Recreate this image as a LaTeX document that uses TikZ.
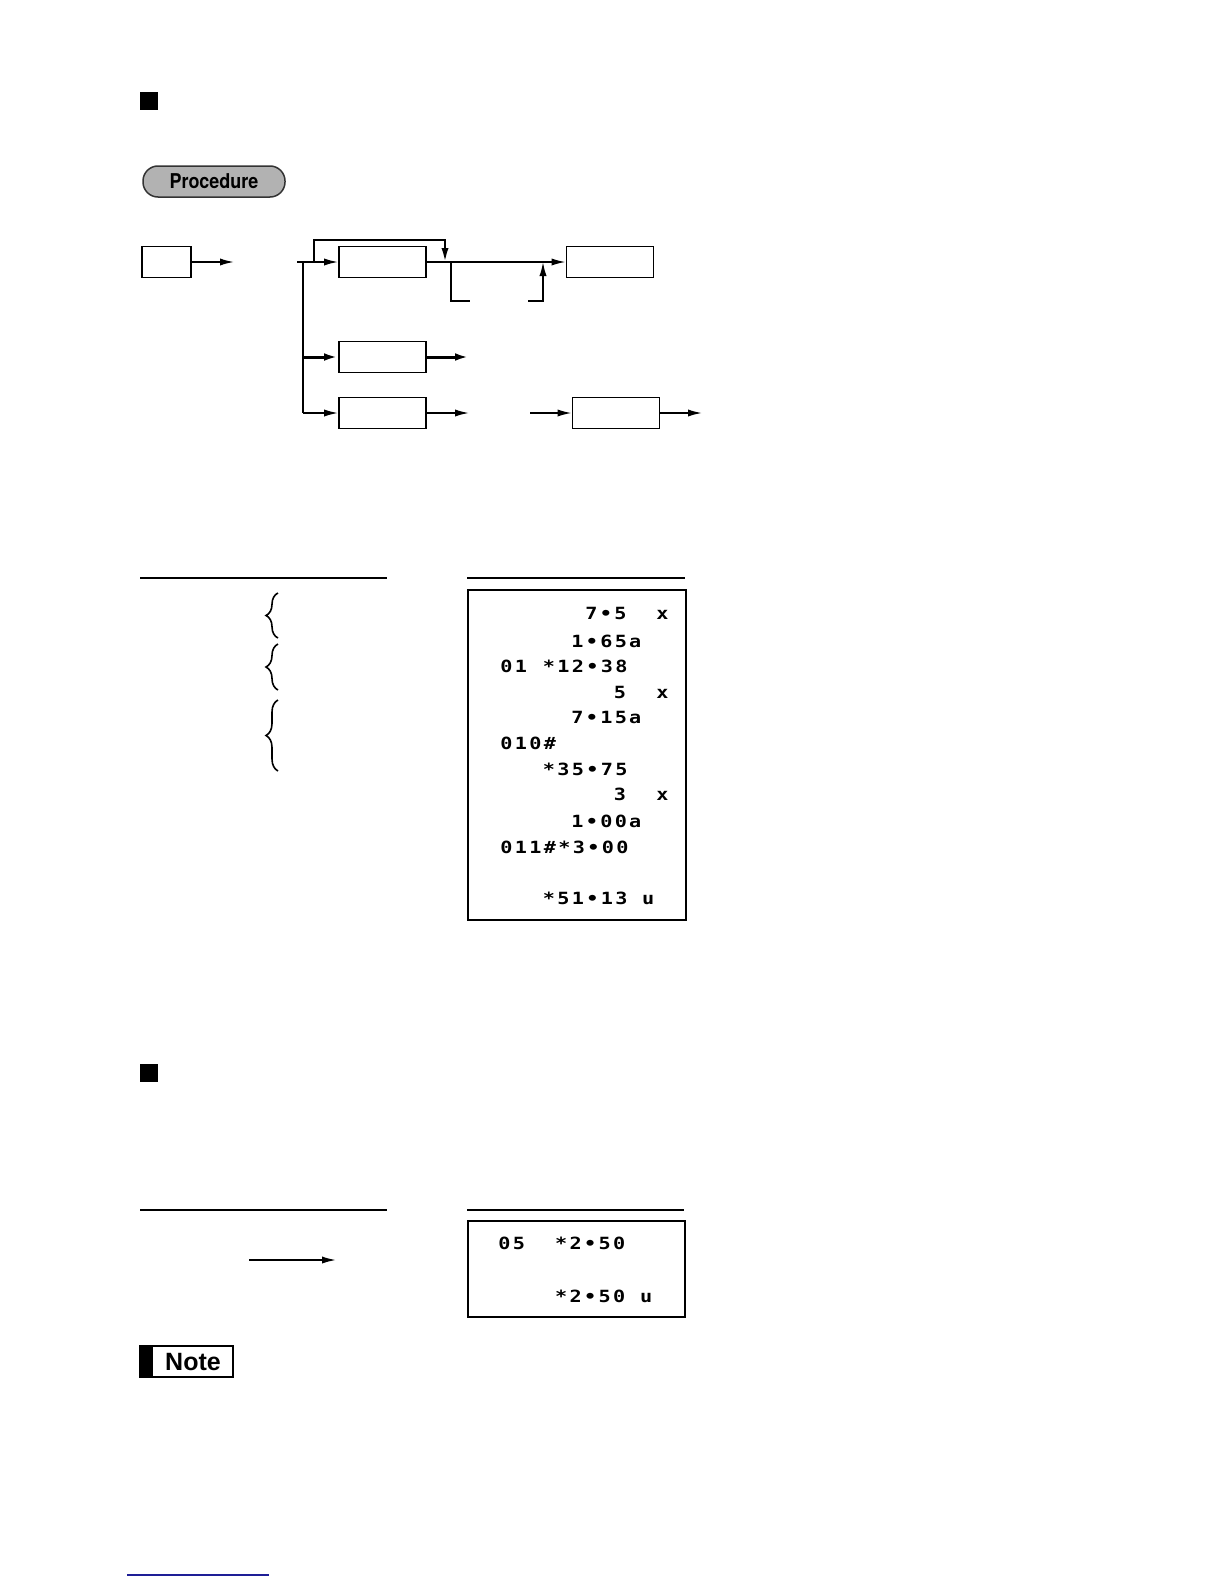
\documentclass[tikz,border=0pt]{standalone}
\usepackage{fontspec}
\setmainfont{Liberation Sans}
\newfontfamily\receiptfont[FakeStretch=1.2,LetterSpace=14]{DejaVu Sans Mono}
\newfontfamily\headfont[FakeStretch=0.88]{TeX Gyre Heros}
\usetikzlibrary{positioning,arrows.meta,decorations.pathreplacing}
\definecolor{pillgray}{RGB}{178,178,178}
\definecolor{linkblue}{RGB}{30,30,150}

\tikzset{
  keybox/.style={draw, line width=0.9pt, minimum width=43.5pt, minimum height=15.5pt, inner sep=0pt},
  flow/.style={line width=0.8pt, -{Latex[length=7pt,width=3.6pt]}},
  heavyflow/.style={line width=1.5pt, -{Latex[length=7pt,width=3.8pt]}},
  plain/.style={line width=0.8pt},
  ticket/.style={inner sep=0pt, anchor=base west, font=\receiptfont\bfseries\fontsize{8.4pt}{10pt}\selectfont},
  pill/.style={draw=black!80, fill=pillgray, line width=0.75pt, rounded corners=7.5pt,
    minimum width=71pt, minimum height=15.5pt, inner sep=0pt,
    font=\headfont\bfseries\fontsize{10.2pt}{12pt}\selectfont}
}

\begin{document}
\begin{tikzpicture}[x=0.5pt,y=-0.5pt]
\useasboundingbox[fill=white] (0,0) rectangle (1224,1584);

% first heading
\fill (140,92) rectangle (158,110);
\node[pill] (proc) at (214,181.5) {Procedure};

% key sequence
\node[keybox, minimum width=24.5pt] (start) at (166.5,262) {};
\node[keybox] (entryA) at (382.5,262) {};
\node[keybox] (entryB) at (382.5,357) {};
\node[keybox] (entryC) at (382.5,413) {};
\node[keybox] (finish) at (610,262) {};
\node[keybox] (extra) at (616,413) {};

\coordinate (startend) at (234,262);
\coordinate (fork) at (297,262);
\coordinate (forktop) at (303,262);
\coordinate (forkB) at (303,357);
\coordinate (forkC) at (303,413);
\coordinate (loopst) at (314,262);
\coordinate (looptop) at (445,240);
\coordinate (loopend) at (445,262);
\coordinate (skipst) at (451,262);
\coordinate (skipa) at (470,301);
\coordinate (skipb) at (528,301);
\coordinate (skipend) at (543,262);
\coordinate (Bend) at (469,357);
\coordinate (Cend) at (469,413);
\coordinate (Ein) at (530,413);
\coordinate (Eend) at (702,413);

\draw[flow] (start) -- (startend);
\draw[flow] (fork) -- (entryA);
\draw[plain] (forktop) -- (forkC);
\draw[heavyflow] (forkB) -- (entryB);
\draw[flow] (forkC) -- (entryC);
\draw[flow, line width=1.1pt] (loopst) |- (looptop) -- (loopend);
\draw[flow] (entryA) -- (finish);
\draw[plain] (skipst) |- (skipa);
\draw[flow] (skipb) -| (skipend);
\draw[heavyflow] (entryB) -- (Bend);
\draw[flow] (entryC) -- (Cend);
\draw[flow] (Ein) -- (extra);
\draw[flow] (extra) -- (Eend);

% first example
\draw[plain] (140,578) -- (387,578);
\draw[plain] (467,578) -- (685,578);
\draw[plain, decorate, decoration={brace, amplitude=6pt}] (278,638) -- (278,593);
\draw[plain, decorate, decoration={brace, amplitude=6pt}] (278,690) -- (278,644);
\draw[plain, decorate, decoration={brace, amplitude=6pt}] (278,771) -- (278,700);
\draw[plain] (468,590) rectangle (686,920);

\node[ticket] (r1) at (585,619) {7•5};
\node[ticket] (r1x) at (655.9,619) {x};
\node[ticket] (r2) at (570.9,647) {1•65a};
\node[ticket] (r3a) at (500,672) {01};
\node[ticket] (r3b) at (542.5,672) {*12•38};
\node[ticket] (r4) at (613.4,698) {5};
\node[ticket] (r4x) at (655.9,698) {x};
\node[ticket] (r5) at (570.9,723) {7•15a};
\node[ticket] (r6) at (500,749) {010\#};
\node[ticket] (r7) at (542.5,775) {*35•75};
\node[ticket] (r8) at (613.4,800) {3};
\node[ticket] (r8x) at (655.9,800) {x};
\node[ticket] (r9) at (570.9,827) {1•00a};
\node[ticket] (r10) at (500,853) {011\#*3•00};
\node[ticket] (r12) at (542.5,904) {*51•13};
\node[ticket] (r12u) at (641.7,904) {u};

% second heading
\fill (140,1064) rectangle (158,1082);

% second example
\draw[plain] (140,1210) -- (387,1210);
\draw[plain] (467,1210) -- (684,1210);
\coordinate (arrst) at (249,1260);
\coordinate (arrend) at (336,1260);
\draw[flow] (arrst) -- (arrend);
\draw[plain] (468,1221) rectangle (685,1317);
\node[ticket] (s1a) at (498,1249) {05};
\node[ticket] (s1b) at (554.7,1249) {*2•50};
\node[ticket] (s2) at (554.7,1302) {*2•50};
\node[ticket] (s2u) at (639.7,1302) {u};

% note tab
\fill (140,1346) rectangle (153,1377);
\draw[plain] (140,1346) rectangle (233,1377);
\node[font=\bfseries\fontsize{12.5pt}{14pt}\selectfont, inner sep=0pt] (note) at (193,1362) {Note};

% page foot line
\draw[linkblue, line width=0.75pt] (127,1575) -- (269,1575);
\end{tikzpicture}
\end{document}
